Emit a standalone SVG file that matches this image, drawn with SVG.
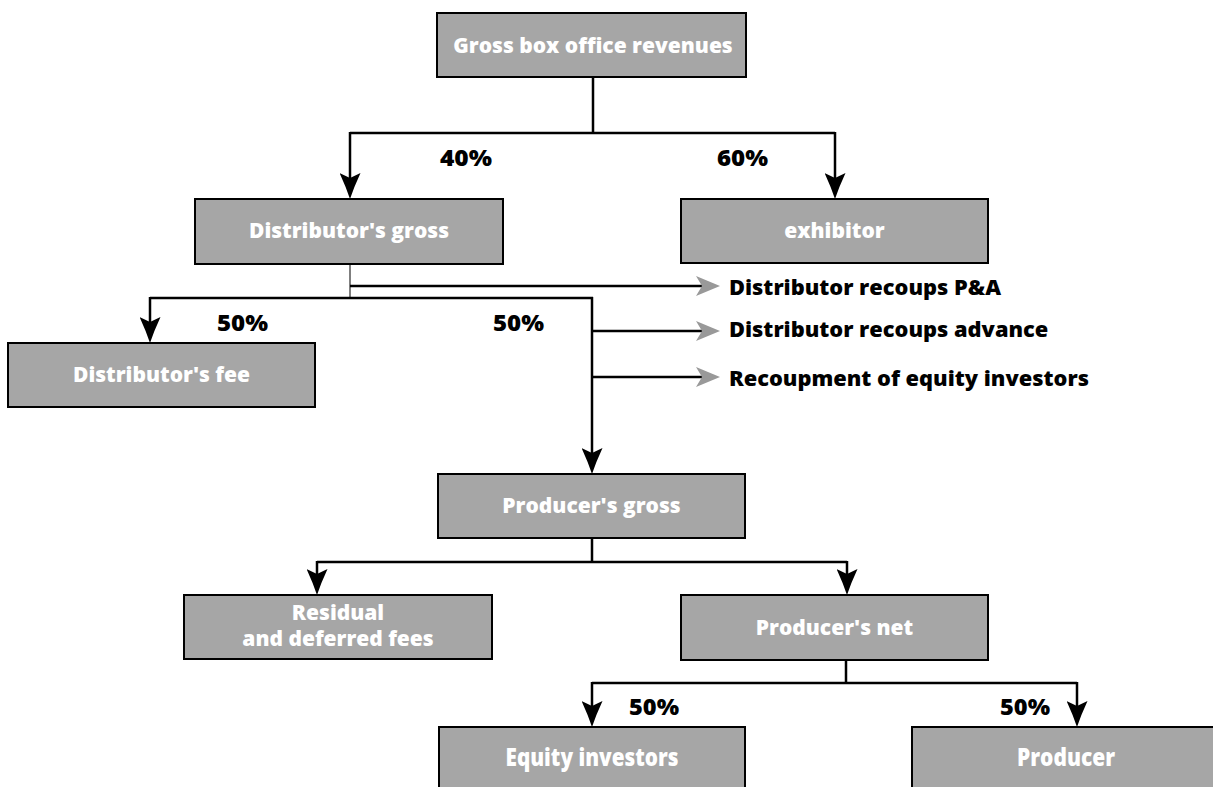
<svg xmlns="http://www.w3.org/2000/svg" width="1213" height="787" viewBox="0 0 1213 787">
<defs>
<marker id="ab" markerUnits="userSpaceOnUse" viewBox="0 0 26 21" refX="6" refY="10.5" markerWidth="26" markerHeight="21" orient="auto">
<path d="M0,0 Q14,6.5 26,10.5 Q14,14.5 0,21 L5,10.5 Z" fill="#000"/>
</marker>
<marker id="ag" markerUnits="userSpaceOnUse" viewBox="0 0 24 20" refX="6" refY="10" markerWidth="24" markerHeight="20" orient="auto">
<path d="M0,0 L24,10 L0,20 L6,10 Z" fill="#999"/>
</marker>
</defs>
<style>
.box{fill:#a6a6a6;stroke:#000;stroke-width:2}
.bt{font-family:"Open Sans","Liberation Sans",sans-serif;font-weight:800;font-size:21px;fill:#fff;text-anchor:middle}
.bc{font-family:"Open Sans","Liberation Sans",sans-serif;font-weight:800;font-size:25px;fill:#fff;text-anchor:middle}
.lb{font-family:"Open Sans","Liberation Sans",sans-serif;font-weight:800;font-size:21.8px;fill:#000}
.pc{font-family:"Open Sans","Liberation Sans",sans-serif;font-weight:800;font-size:23px;fill:#000}
.c{fill:none;stroke:#000;stroke-width:2.5}
.ca{fill:none;stroke:#000;stroke-width:2.5;marker-end:url(#ab)}
.cg{fill:none;stroke:#000;stroke-width:2.5;marker-end:url(#ag)}
.thin{fill:none;stroke:#555;stroke-width:1.5}
</style>
<rect width="1213" height="787" fill="#fff"/>
<g id="connectors">
<path class="c" d="M593,77 V133 M350,133 H835"/>
<path class="ca" d="M350,132 V179"/>
<path class="ca" d="M835,132 V179"/>
<path class="thin" d="M350,264 V298"/>
<path class="cg" d="M350,286 H702"/>
<path class="c" d="M150,298 H593"/>
<path class="ca" d="M150,297 V323"/>
<path class="ca" d="M592,297 V454"/>
<path class="cg" d="M592,331 H702"/>
<path class="cg" d="M592,377 H702"/>
<path class="c" d="M592,538 V562 M317,562 H847"/>
<path class="ca" d="M317,561 V575"/>
<path class="ca" d="M847,561 V575"/>
<path class="c" d="M846,660 V683 M592,683 H1077"/>
<path class="ca" d="M592,682 V707"/>
<path class="ca" d="M1077,682 V707"/>
</g>
<g id="labels">
<text class="pc" x="440" y="166" textLength="52" lengthAdjust="spacingAndGlyphs">40%</text>
<text class="pc" x="717" y="166" textLength="51" lengthAdjust="spacingAndGlyphs">60%</text>
<text class="pc" x="217" y="331" textLength="51" lengthAdjust="spacingAndGlyphs">50%</text>
<text class="pc" x="493" y="331" textLength="51" lengthAdjust="spacingAndGlyphs">50%</text>
<text class="pc" x="629" y="715" textLength="50" lengthAdjust="spacingAndGlyphs">50%</text>
<text class="pc" x="1000" y="715" textLength="50" lengthAdjust="spacingAndGlyphs">50%</text>
<text class="lb" x="729" y="295">Distributor recoups P&amp;A</text>
<text class="lb" x="729" y="337">Distributor recoups advance</text>
<text class="lb" x="729" y="386">Recoupment of equity investors</text>
</g>
<g id="n-gross">
<rect class="box" x="437" y="13" width="309" height="64"/>
<text class="bt" x="593" y="53">Gross box office revenues</text>
</g>
<g id="n-distgross">
<rect class="box" x="195" y="199" width="308" height="65"/>
<text class="bt" x="349" y="238">Distributor's gross</text>
</g>
<g id="n-exhibitor">
<rect class="box" x="681" y="199" width="307" height="64"/>
<text class="bt" x="834.5" y="238">exhibitor</text>
</g>
<g id="n-distfee">
<rect class="box" x="8" y="343" width="307" height="64"/>
<text class="bt" x="161.5" y="382">Distributor's fee</text>
</g>
<g id="n-prodgross">
<rect class="box" x="438" y="474" width="307" height="64"/>
<text class="bt" x="591.5" y="513">Producer's gross</text>
</g>
<g id="n-residual">
<rect class="box" x="184" y="595" width="308" height="64"/>
<text class="bt" x="338" y="620">Residual</text>
<text class="bt" x="338" y="646">and deferred fees</text>
</g>
<g id="n-prodnet">
<rect class="box" x="681" y="595" width="307" height="65"/>
<text class="bt" x="834.5" y="635">Producer's net</text>
</g>
<g id="n-equity">
<rect class="box" x="439" y="727" width="306" height="80"/>
<text class="bc" x="592" y="766" textLength="173" lengthAdjust="spacingAndGlyphs">Equity investors</text>
</g>
<g id="n-producer">
<rect class="box" x="912" y="727" width="310" height="80"/>
<text class="bc" x="1066" y="766" textLength="98" lengthAdjust="spacingAndGlyphs">Producer</text>
</g>
</svg>
